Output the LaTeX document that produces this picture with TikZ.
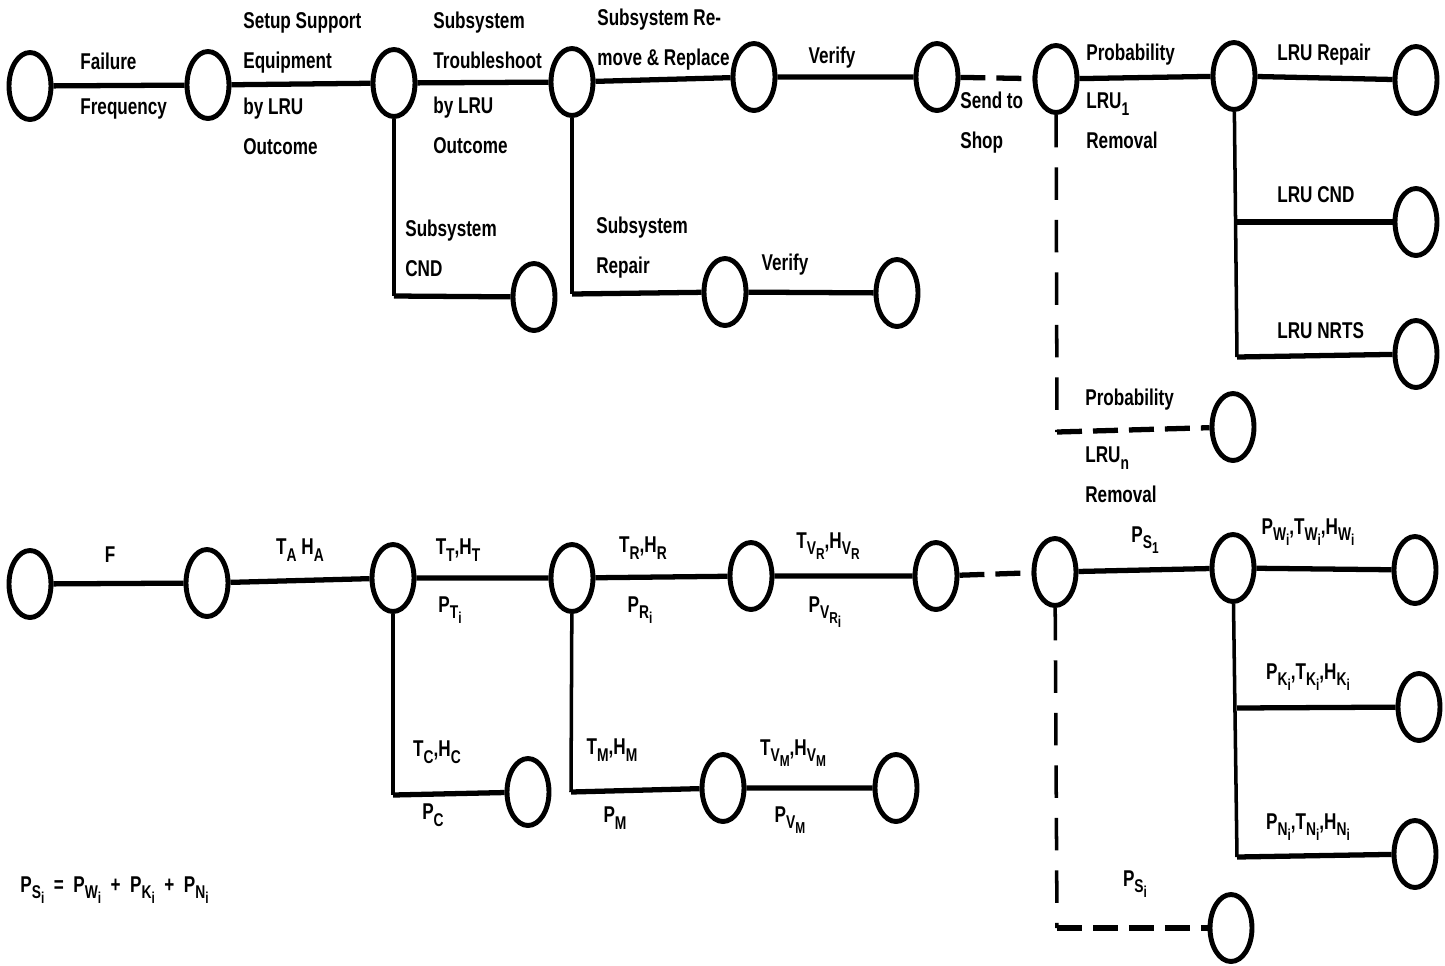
\documentclass[tikz,border=0pt]{standalone}
\usepackage{fontspec}
\setmainfont{Liberation Sans}[FakeStretch=0.75]
\usetikzlibrary{shapes.geometric}
\tikzset{
  ev/.style={ellipse, draw, line width=2.8pt, minimum width=0.84cm, minimum height=1.34cm, inner sep=0pt},
  br/.style={line width=3pt},
  thn/.style={line width=2pt},
  dsh/.style={line width=3pt, dash pattern=on 0.5cm off 0.22cm},
  dshv/.style={line width=2pt, dash pattern=on 0.65cm off 0.4cm},
  lab/.style={font=\bfseries\fontsize{13}{22.8}\selectfont, align=left, anchor=west, inner sep=0pt},
  sym/.style={font=\bfseries\fontsize{13}{15}\selectfont, inner sep=0pt}
}
\newcommand{\sbs}[1]{\raisebox{-0.55ex}{\fontsize{10.5}{10.5}\selectfont #1}}
\newcommand{\ssbs}[1]{\raisebox{-0.5ex}{\fontsize{9}{9}\selectfont #1}}

\begin{document}
\begin{tikzpicture}[x=0.02cm, y=-0.02cm]
		\useasboundingbox (0,0) rectangle (1445,965);
		% upper network, worded
		\node[ev] (a0) at (30,86) {};
		\node[ev] (a1) at (208,85) {};
		\node[ev] (a2) at (394,83) {};
		\node[ev] (a3) at (572,82) {};
		\node[ev] (a4) at (754,77) {};
		\node[ev] (a5) at (937,77) {};
		\node[ev] (a6) at (1056,79) {};
		\node[ev] (a7) at (1234,76) {};
		\node[ev] (a8) at (1416,80) {};
		\node[ev] (cnd) at (1416,222) {};
		\node[ev] (nrts) at (1416,354) {};
		\node[ev] (lrun) at (1233,427) {};
		\node[ev] (scnd) at (534,297) {};
		\node[ev] (srep) at (725,292) {};
		\node[ev] (sver) at (897,293) {};
		\coordinate (k2) at (394,296);
		\coordinate (k3) at (572,294);
		\coordinate (k6) at (1057,432);
		\coordinate (k7a) at (1237,222);
		\coordinate (k7b) at (1237,357);
		\draw[br] (a0) -- (a1) -- (a2) -- (a3) -- (a4) -- (a5);
		\draw[dsh] (a5) -- (a6);
		\draw[br] (a6) -- (a7) -- (a8);
		\draw[thn] (a2) -- (k2);
		\draw[br] (k2) -- (scnd);
		\draw[thn] (a3) -- (k3);
		\draw[br] (k3) -- (srep) -- (sver);
		\draw[dshv] (a6) -- (k6);
		\draw[dsh] (k6) -- (lrun);
		\draw[thn] (a7) -- (k7b);
		\draw[br] (k7a) -- (cnd);
		\draw[br] (k7b) -- (nrts);
		\node[lab] at (80,86) {Failure\\[0.1cm]Frequency};
		\node[lab] at (243,43) {Setup Support\\Equipment};
		\node[lab] at (243,126) {by LRU\\Outcome};
		\node[lab] at (433,40) {Subsystem\\Troubleshoot};
		\node[lab] at (433,125) {by LRU\\Outcome};
		\node[lab] at (597,40) {Subsystem Re-\\move \& Replace};
		\node[sym] at (832,58) {Verify};
		\node[lab] at (960,123) {Send to\\Shop};
		\node[lab] at (1086,55) {Probability};
		\node[lab] at (1086,121) {LRU\sbs{1}\\Removal};
		\node[lab] at (1277,55) {LRU Repair};
		\node[lab] at (1277,195) {LRU CND};
		\node[lab] at (1277,331) {LRU NRTS};
		\node[lab] at (405,248) {Subsystem\\CND};
		\node[lab] at (596,248) {Subsystem\\Repair};
		\node[sym] at (785,265) {Verify};
		\node[lab] at (1085,400) {Probability};
		\node[lab] at (1085,475) {LRU\sbs{n}\\Removal};
		% lower network, symbols
		\node[ev] (b0) at (30,584) {};
		\node[ev] (b1) at (207,583) {};
		\node[ev] (b2) at (393,578) {};
		\node[ev] (b3) at (572,578) {};
		\node[ev] (b4) at (751,576) {};
		\node[ev] (b5) at (936,576) {};
		\node[ev] (b6) at (1055,572) {};
		\node[ev] (b7) at (1233,568) {};
		\node[ev] (b8) at (1415,570) {};
		\node[ev] (kend) at (1419,707) {};
		\node[ev] (nend) at (1415,854) {};
		\node[ev] (psi) at (1231,928) {};
		\node[ev] (ccnd) at (528,792) {};
		\node[ev] (mrep) at (723,788) {};
		\node[ev] (mver) at (896,788) {};
		\coordinate (m2) at (393,795);
		\coordinate (m3) at (571,792);
		\coordinate (m6) at (1057,928);
		\coordinate (m7a) at (1237,708);
		\coordinate (m7b) at (1237,857);
		\draw[br] (b0) -- (b1) -- (b2) -- (b3) -- (b4) -- (b5);
		\draw[dsh] (b5) -- (b6);
		\draw[br] (b6) -- (b7) -- (b8);
		\draw[thn] (b2) -- (m2);
		\draw[br] (m2) -- (ccnd);
		\draw[thn] (b3) -- (m3);
		\draw[br] (m3) -- (mrep) -- (mver);
		\draw[dshv] (b6) -- (m6);
		\draw[dsh] (m6) -- (psi);
		\draw[thn] (b7) -- (m7b);
		\draw[br] (m7a) -- (kend);
		\draw[br] (m7b) -- (nend);
		\node[sym] at (110,555) {F};
		\node[sym] at (300,550) {T\sbs{A} H\sbs{A}};
		\node[sym] at (458,550) {T\sbs{T},H\sbs{T}};
		\node[sym] at (450,610) {P\sbs{T\ssbs{i}}};
		\node[sym] at (643,548) {T\sbs{R},H\sbs{R}};
		\node[sym] at (640,610) {P\sbs{R\ssbs{i}}};
		\node[sym] at (828,546) {T\sbs{V\ssbs{R}},H\sbs{V\ssbs{R}}};
		\node[sym] at (825,612) {P\sbs{V\ssbs{R\ssbs{i}}}};
		\node[sym] at (437,752) {T\sbs{C},H\sbs{C}};
		\node[sym] at (433,815) {P\sbs{C}};
		\node[sym] at (612,750) {T\sbs{M},H\sbs{M}};
		\node[sym] at (615,818) {P\sbs{M}};
		\node[sym] at (793,753) {T\sbs{V\ssbs{M}},H\sbs{V\ssbs{M}}};
		\node[sym] at (790,820) {P\sbs{V\ssbs{M}}};
		\node[sym] at (1145,540) {P\sbs{S\ssbs{1}}};
		\node[sym] at (1308,532) {P\sbs{W\ssbs{i}},T\sbs{W\ssbs{i}},H\sbs{W\ssbs{i}}};
		\node[sym] at (1308,677) {P\sbs{K\ssbs{i}},T\sbs{K\ssbs{i}},H\sbs{K\ssbs{i}}};
		\node[sym] at (1308,827) {P\sbs{N\ssbs{i}},T\sbs{N\ssbs{i}},H\sbs{N\ssbs{i}}};
		\node[sym] at (1135,884) {P\sbs{S\ssbs{i}}};
		\node[sym, anchor=west] at (20,890) {P\sbs{S\ssbs{i}}\ \ =\ \ P\sbs{W\ssbs{i}}\ \ +\ \ P\sbs{K\ssbs{i}}\ \ +\ \ P\sbs{N\ssbs{i}}};
	\end{tikzpicture}
\end{document}
